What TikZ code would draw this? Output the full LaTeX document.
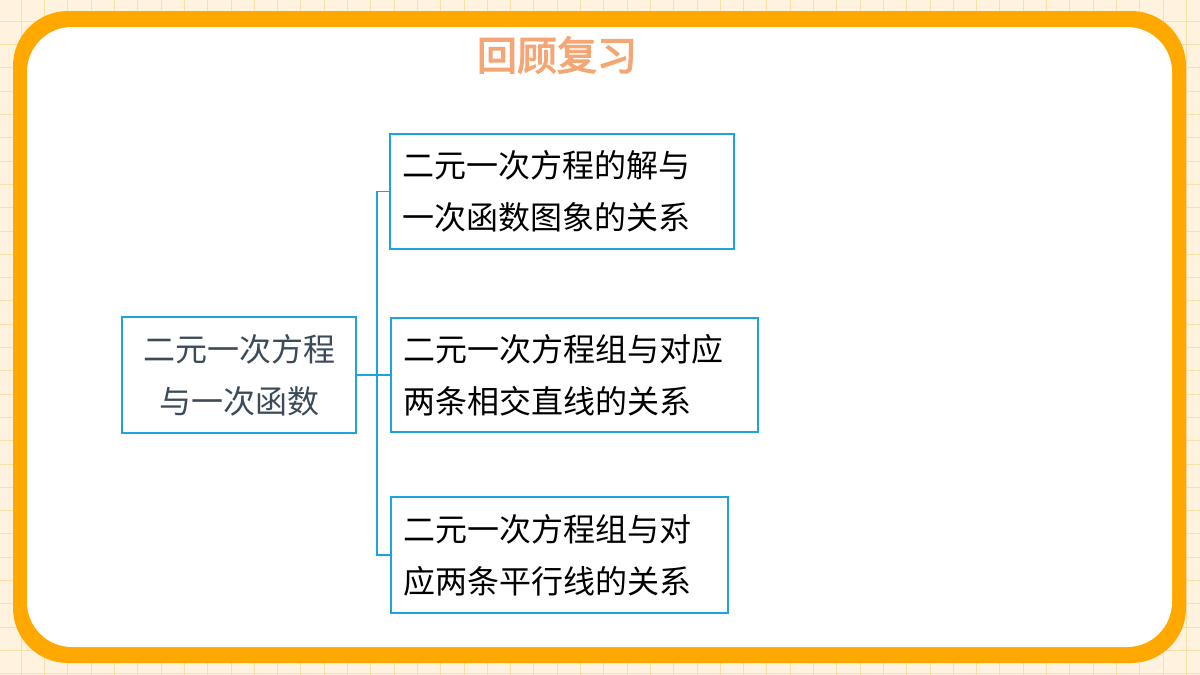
\documentclass[tikz,border=0pt]{standalone}
\usepackage{fontspec}
\newfontfamily\cjk{Noto Sans CJK SC}
\newfontfamily\cjkb{Noto Sans CJK SC}[FakeBold=3]
\definecolor{bg}{HTML}{FFF3DF}
\definecolor{gridc}{HTML}{FBDFA8}
\definecolor{frame}{HTML}{FFA800}
\definecolor{boxc}{HTML}{1AA5DC}
\definecolor{graytxt}{HTML}{3D4A5A}
\definecolor{titlec}{HTML}{F4A674}
\tikzset{box/.style={draw=boxc,line width=2pt,fill=white,inner sep=0pt},
 btxt/.style={font=\cjk\fontsize{32}{52}\selectfont,align=left},
 link/.style={draw=boxc,line width=1.5pt}}
\begin{document}
\begin{tikzpicture}[x=1pt,y=-1pt]
\useasboundingbox (0,0) rectangle (1200,675);
\fill[bg] (0,0) rectangle (1200,675);
\foreach \i in {0,...,52} \draw[gridc,line width=1pt] (\i*23.3-2,0) -- (\i*23.3-2,675);
\foreach \j in {0,...,29} \draw[gridc,line width=1pt] (0,\j*23.3-2) -- (1200,\j*23.3-2);
\fill[frame,rounded corners=55pt] (13,11) rectangle (1186,663);
\fill[white,rounded corners=45pt] (27,27) rectangle (1172,647);
\node[font=\cjkb\fontsize{40}{40}\selectfont,text=titlec] (title) at (557,55) {回顾复习};
\node[box,minimum width=234pt,minimum height=116pt] (L) at (239,375) {};
\node[btxt,align=center,text=graytxt] at (L) {二元一次方程\\与一次函数};
\node[box,minimum width=344pt,minimum height=115pt] (A) at (562,191.5) {};
\node[btxt,anchor=west] at ([xshift=10pt]A.west) {二元一次方程的解与\\一次函数图象的关系};
\node[box,minimum width=367pt,minimum height=114pt] (B) at (574.5,375) {};
\node[btxt,anchor=west] at ([xshift=10pt]B.west) {二元一次方程组与对应\\两条相交直线的关系};
\node[box,minimum width=337pt,minimum height=116pt] (C) at (559.5,555) {};
\node[btxt,anchor=west] at ([xshift=10pt]C.west) {二元一次方程组与对\\应两条平行线的关系};
\coordinate (m) at (377,375);
\draw[link] (L.east) -- (m);
\draw[link] (A.west) -| (m) |- (C.west);
\draw[link] (m) -- (B.west);
\end{tikzpicture}
\end{document}
